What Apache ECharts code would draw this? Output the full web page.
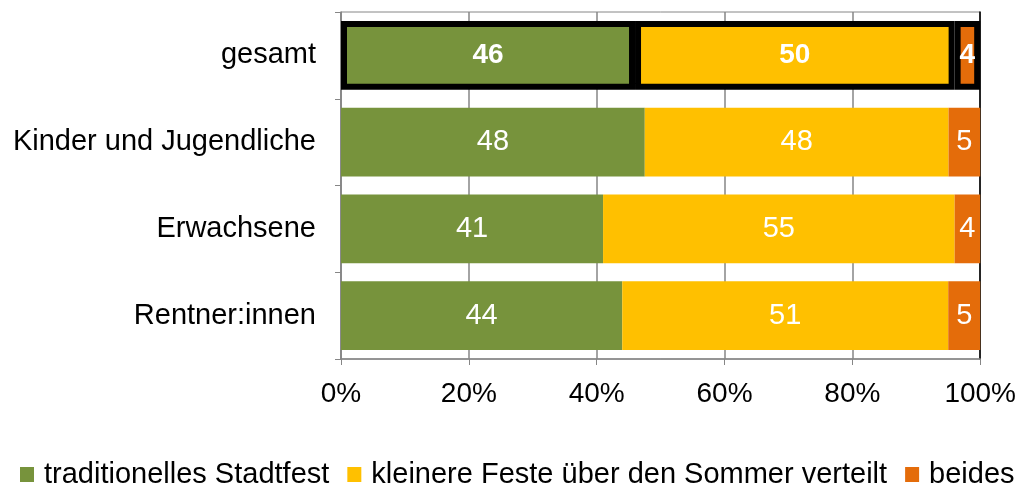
<!DOCTYPE html>
<html>
<head>
<meta charset="utf-8">
<script src="https://cdn.jsdelivr.net/npm/echarts@6/dist/echarts.min.js"></script>
<style>
  html, body { margin: 0; padding: 0; background: #fff; }
  #chart { width: 1019px; height: 485px; }
</style>
</head>
<body>
<div id="chart"></div>
<script>
// Kategorien (von oben nach unten)
var categories = ['gesamt', 'Kinder und Jugendliche', 'Erwachsene', 'Rentner:innen'];
var seriesNames = ['traditionelles Stadtfest', 'kleinere Feste über den Sommer verteilt', 'beides'];
var stadtfest = [46, 48, 41, 44];
var kleinere = [50, 48, 55, 51];
var beides = [4, 5, 4, 5];
var xTicks = [0, 20, 40, 60, 80, 100];

var colors = ['#77933C', '#FFC000', '#E46C0A'];
var FONT = 'Liberation Sans, Arial, sans-serif';

// auf 100% normieren, Beschriftung zeigt Originalwert
function buildData(values) {
    return values.map(function (v, i) {
        var sum = stadtfest[i] + kleinere[i] + beides[i];
        var item = { value: v / sum * 100, raw: v };
        if (i === 0) {
            item.itemStyle = { borderColor: '#000', borderWidth: 6 };
            item.label = { fontWeight: 'bold', fontSize: 28 };
        }
        return item;
    });
}

var chart = echarts.init(document.getElementById('chart'));
var option = {
    animation: false,
    color: colors,
    grid: {
        left: 341, right: 38, top: 12, bottom: 126,
        show: true, borderColor: '#868686', borderWidth: 1
    },
    legend: {
        top: 455,
        left: 15,
        right: 0,
        padding: [5, 0, 5, 5],
        icon: 'rect',
        itemWidth: 14,
        itemHeight: 15,
        itemGap: 18,
        textStyle: { fontFamily: FONT, fontSize: 29, color: '#000', padding: [0, 0, 0, 5] },
        data: seriesNames
    },
    xAxis: {
        type: 'value',
        min: 0, max: 100, interval: 20,
        axisLine: { show: true, lineStyle: { color: '#868686', width: 1.5 } },
        axisTick: { show: true, length: 6, lineStyle: { color: '#868686' } },
        splitLine: { show: true, lineStyle: { color: '#868686', width: 1.5 } },
        axisLabel: {
            fontFamily: FONT, fontSize: 28, color: '#000', margin: 21,
            formatter: function (v) { return xTicks.indexOf(v) >= 0 ? v + '%' : ''; }
        }
    },
    yAxis: [{
        type: 'category',
        inverse: true,
        data: categories,
        axisLine: { show: true, lineStyle: { color: '#868686', width: 1.5 } },
        axisTick: { show: true, length: 6, lineStyle: { color: '#868686' } },
        axisLabel: { fontFamily: FONT, fontSize: 29, color: '#000', margin: 25 }
    }, {
        type: 'category',
        inverse: true,
        position: 'right',
        data: categories,
        axisLine: { show: true, lineStyle: { color: '#000', width: 1.5 } },
        axisTick: { show: false },
        axisLabel: { show: false }
    }],
    series: [stadtfest, kleinere, beides].map(function (vals, idx) {
        return {
            name: seriesNames[idx],
            type: 'bar',
            stack: 'total',
            barCategoryGap: '20.5%',
            data: buildData(vals),
            label: {
                show: true,
                position: 'inside',
                color: '#fff',
                fontFamily: FONT,
                fontSize: 29,
                formatter: function (p) { return p.data.raw; }
            }
        };
    })
};
chart.setOption(option);
</script>
</body>
</html>
